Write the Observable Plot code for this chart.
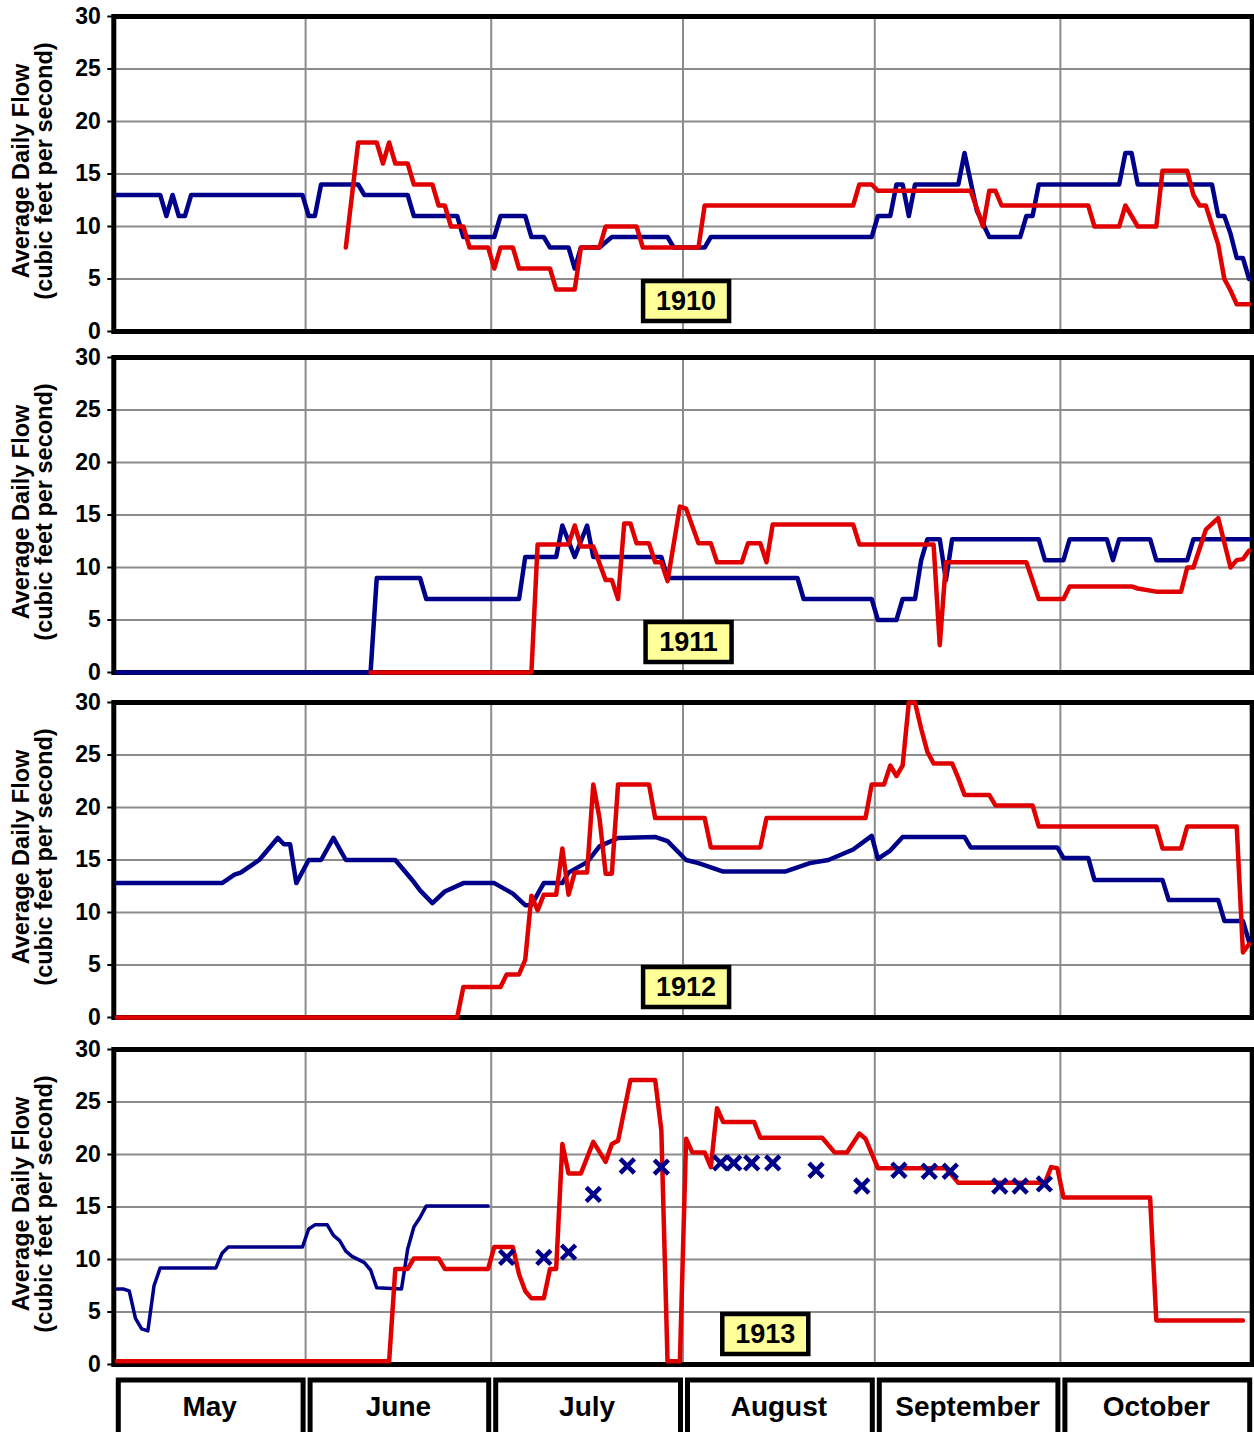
<!DOCTYPE html>
<html><head><meta charset="utf-8">
<script src="https://cdn.jsdelivr.net/npm/d3@7"></script>
<script src="https://cdn.jsdelivr.net/npm/@observablehq/plot@0.6"></script>
<style>
html,body{margin:0;padding:0;background:#fff;overflow:hidden;}
#wrap{position:relative;width:1254px;height:1432px;font-family:"Liberation Sans",Arial,sans-serif;}
#wrap svg{position:absolute;left:0;overflow:visible;}
</style></head><body><div id="wrap"></div>
<script>
// ---------- data ----------
const months = ["May","June","July","August","September","October"];
const monthDays = [31,30,31,31,30,31];
const yTicks = [0,5,10,15,20,25,30];
const years = ["1910","1911","1912","1913"];
const yTitle = "Average Daily Flow\n(cubic feet per second)";

// [day index from May 1, average daily flow]
const blue1910 = [[0,13],[7,13],[8,11],[9,13],[10,11],[11,11],[12,13],[30,13],[31,11],[32,11],[33,14],[39,14],[40,13],[47,13],[48,11],[55,11],[56,9],[61,9],[62,11],[66,11],[67,9],[69,9],[70,8],[73,8],[74,6],[75,8],[78,8],[80,9],[89,9],[90,8],[95,8],[96,9],[122,9],[123,11],[125,11],[126,14],[127,14],[128,11],[129,14],[136,14],[137,17],[139,11.5],[141,9],[146,9],[147,11],[148,11],[149,14],[162,14],[163,17],[164,17],[165,14],[177,14],[178,11],[179,11],[180,9.3],[181,7],[182,7],[183,5]];
const red1910 = [[37,8],[39,18],[42,18],[43,16],[44,18],[45,16],[47,16],[48,14],[51,14],[52,12],[53,12],[54,10],[56,10],[57,8],[60,8],[61,6],[62,8],[64,8],[65,6],[70,6],[71,4],[74,4],[75,8],[78,8],[79,10],[84,10],[85,8],[94,8],[95,12],[119,12],[120,14],[122,14],[123,13.4],[138,13.4],[140,10],[141,13.4],[142,13.4],[143,12],[157,12],[158,10],[162,10],[163,12],[165,10],[168,10],[169,15.3],[173,15.3],[174,13],[175,12],[176,12],[178,8.3],[179,5],[180,3.9],[181,2.6],[183,2.6]];

const blue1911 = [[0,0],[41,0],[42,9],[49,9],[50,7],[65,7],[66,11],[71,11],[72,14],[74,11],[76,14],[77,11],[88,11],[89,9],[110,9],[111,7],[122,7],[123,5],[126,5],[127,7],[129,7],[130,10.7],[131,12.7],[133,12.7],[134,8.8],[135,12.7],[149,12.7],[150,10.7],[153,10.7],[154,12.7],[160,12.7],[161,10.7],[162,12.7],[167,12.7],[168,10.7],[173,10.7],[174,12.7],[183,12.7]];
const red1911 = [[41,0],[67,0],[68,12.2],[73,12.2],[74,14],[75,12],[77,12],[79,8.8],[80,8.8],[81,7],[82,14.2],[83,14.2],[84,12.3],[86,12.3],[87,10.5],[88,10.5],[89,8.7],[91,15.8],[92,15.6],[94,12.3],[96,12.3],[97,10.5],[101,10.5],[102,12.3],[104,12.3],[105,10.5],[106,14.1],[119,14.1],[120,12.2],[132,12.2],[133,2.6],[134,10.5],[147,10.5],[149,7],[153,7],[154,8.2],[164,8.2],[165,8.0],[168,7.7],[172,7.7],[173,10],[174,10],[176,13.6],[178,14.7],[180,10],[181,10.7],[182,10.8],[183,11.6]];

const blue1912 = [[0,12.8],[17,12.8],[19,13.6],[20,13.8],[23,15],[26,17.1],[27,16.5],[28,16.5],[29,12.8],[31,15],[33,15],[35,17.1],[37,15],[45,15],[48,12.9],[49,12.1],[51,10.9],[53,12],[56,12.8],[61,12.8],[64,11.8],[66,10.7],[67,10.7],[69,12.8],[72,12.8],[73,13.8],[76,14.8],[78,16.3],[81,17.1],[87,17.2],[89,16.8],[92,15],[94,14.7],[98,13.9],[108,13.9],[112,14.7],[115,15],[119,16],[122,17.3],[123,15.1],[125,15.9],[127,17.2],[137,17.2],[138,16.2],[152,16.2],[153,15.2],[157,15.2],[158,13.1],[169,13.1],[170,11.2],[178,11.2],[179,9.2],[182,9.2],[183,7.2]];
const red1912 = [[0,0],[55,0],[56,2.9],[62,2.9],[63,4.1],[65,4.1],[66,5.5],[67,11.6],[68,10.2],[69,11.7],[71,11.7],[72,16.1],[73,11.7],[74,13.8],[76,13.8],[77,22.2],[78,19],[79,13.7],[80,13.7],[81,22.2],[86,22.2],[87,19],[95,19],[96,16.2],[104,16.2],[105,19],[121,19],[122,22.2],[124,22.2],[125,24],[126,23],[127,24],[128,30],[129,30],[130,27.5],[131,25.3],[132,24.2],[135,24.2],[136,22.8],[137,21.2],[141,21.2],[142,20.2],[148,20.2],[149,18.2],[168,18.2],[169,16.1],[172,16.1],[173,18.2],[181,18.2],[182,6.2],[183,7]];

const blue1913 = [[0,7.2],[1,7.2],[2,7.0],[3,4.4],[4,3.4],[5,3.2],[6,7.5],[7,9.2],[16,9.2],[17,10.6],[18,11.2],[30,11.2],[31,12.9],[32,13.3],[34,13.3],[35,12.3],[36,11.8],[37,10.8],[38,10.3],[40,9.7],[41,9],[42,7.3],[46,7.2],[47,11],[48,13.1],[49,14],[50,15.1],[60,15.1]];
const red1913 = [[0,0.3],[44,0.3],[45,9.1],[47,9.1],[48,10.1],[52,10.1],[53,9.1],[60,9.1],[61,11.2],[64,11.2],[65,8.6],[66,7],[67,6.3],[69,6.3],[70,9.1],[71,9.1],[72,21],[73,18.2],[75,18.2],[77,21.2],[79,19.3],[80,21],[81,21.3],[83,27.1],[87,27.1],[88,22.3],[89,0.3],[91,0.3],[92,21.5],[93,20.2],[95,20.2],[96,18.8],[97,24.4],[98,23.1],[103,23.1],[104,21.6],[114,21.6],[116,20.2],[118,20.2],[120,22],[121,21.5],[123,18.7],[134,18.7],[136,17.3],[150,17.3],[151,18.8],[152,18.7],[153,15.9],[167,15.9],[168,4.2],[182,4.2]];
const obs1913 = [[63,10.2],[69,10.2],[73,10.7],[77,16.2],[82.5,18.9],[88,18.8],[97.6,19.2],[99.7,19.2],[102.6,19.2],[106,19.2],[113,18.5],[120.4,17],[126.4,18.5],[131.3,18.4],[134.7,18.4],[142.7,17],[146,17],[149.9,17.2]];

const seriesByYear = {
  "1910": {blue: blue1910, red: red1910},
  "1911": {blue: blue1911, red: red1911},
  "1912": {blue: blue1912, red: red1912},
  "1913": {blue: blue1913, red: red1913, obs: obs1913}
};

// ---------- layout / style ----------
const BLUE = "#000088", RED = "#e00000", GRID = "#8c8c8c";
const W = 1254, ML = 113.3, MR = 2.3, MT = 16, MB = 14, PH = 315;
const panelTops = [16, 357, 702, 1049];
const labelAnchor = [{t:92.5,v:2.9},{t:92.9,v:2.9},{t:92.5,v:2.9},{t:105.3,v:2.9}];
const FONT = '"Liberation Sans", Arial, Helvetica, sans-serif';

const totalDays = d3.sum(monthDays);
const monthEdges = [0, ...d3.cumsum(monthDays)];
const monthCells = months.map((m,i)=>({month:m, start:monthEdges[i], end:monthEdges[i+1]}));

const boxSymbol = {draw(ctx){ ctx.moveTo(-43,-20); ctx.lineTo(43,-20); ctx.lineTo(43,20); ctx.lineTo(-43,20); ctx.closePath(); }};

const wrap = document.getElementById("wrap");

function panel(i){
  const yr = years[i];
  const s = seriesByYear[yr];
  const pts = arr => arr.map(([d,v]) => ({x:d+0.5, v}));
  const marks = [
    Plot.gridY(yTicks.slice(1,-1), {stroke:GRID, strokeOpacity:1, strokeWidth:2}),
    Plot.gridX(monthEdges.slice(1,-1), {stroke:GRID, strokeOpacity:1, strokeWidth:2}),
    Plot.frame({stroke:"#000", strokeWidth:5}),
    Plot.axisY(yTicks, {tickSize:6, tickPadding:7, strokeWidth:2, stroke:"#000", fill:"#000", fontSize:23, fontWeight:"bold", label:null}),
    Plot.text([yTitle], {frameAnchor:"left", textAnchor:"middle", lineAnchor:"middle", rotate:-90, dx:-81, dy:-3, fontSize:23.5, fontWeight:"bold", lineHeight:0.98, fill:"#000"}),
    Plot.line(pts(s.blue), {x:"x", y:"v", stroke:BLUE, strokeWidth: yr==="1913" ? 3.5 : 4.5}),
    Plot.line(pts(s.red), {x:"x", y:"v", stroke:RED, strokeWidth:4.5})
  ];
  if (s.obs) marks.push(Plot.dot(pts(s.obs), {x:"x", y:"v", symbol:"times", r:6.5, stroke:BLUE, strokeWidth:4.5}));
  const lab = [{...labelAnchor[i], year: yr}];
  marks.push(Plot.dot(lab, {x:"t", y:"v", symbol:boxSymbol, fill:"#ffff99", stroke:"#000", strokeWidth:4.5}));
  marks.push(Plot.text(lab, {x:"t", y:"v", text:"year", fontSize:27, fontWeight:"bold", fill:"#000"}));
  const svg = Plot.plot({
    width:W, height:MT+PH+MB, marginLeft:ML, marginRight:MR, marginTop:MT, marginBottom:MB,
    x:{domain:[0,totalDays], axis:null},
    y:{domain:[0,30]},
    style:{fontFamily:FONT, background:"transparent", overflow:"visible"},
    marks
  });
  svg.style.top = (panelTops[i]-MT) + "px";
  wrap.appendChild(svg);
}
years.forEach((_,i)=>panel(i));

const monthSvg = Plot.plot({
  width:W, height:100, marginLeft:ML, marginRight:MR, marginTop:10, marginBottom:0,
  x:{domain:[0,totalDays], axis:null},
  y:{domain:[0,1], axis:null},
  style:{fontFamily:FONT, background:"transparent", overflow:"visible"},
  marks:[
    Plot.rect(monthCells, {x1:"start", x2:"end", y1:0, y2:1, insetLeft:5, insetRight:2, fill:"#fff", stroke:"#000", strokeWidth:5}),
    Plot.text(monthCells, {x:d=>(d.start+d.end)/2, frameAnchor:"top", lineAnchor:"middle", dy:27, text:"month", fontSize:28, fontWeight:"bold", fill:"#000"})
  ]
});
monthSvg.style.top = "1370px";
wrap.appendChild(monthSvg);
</script></body></html>
